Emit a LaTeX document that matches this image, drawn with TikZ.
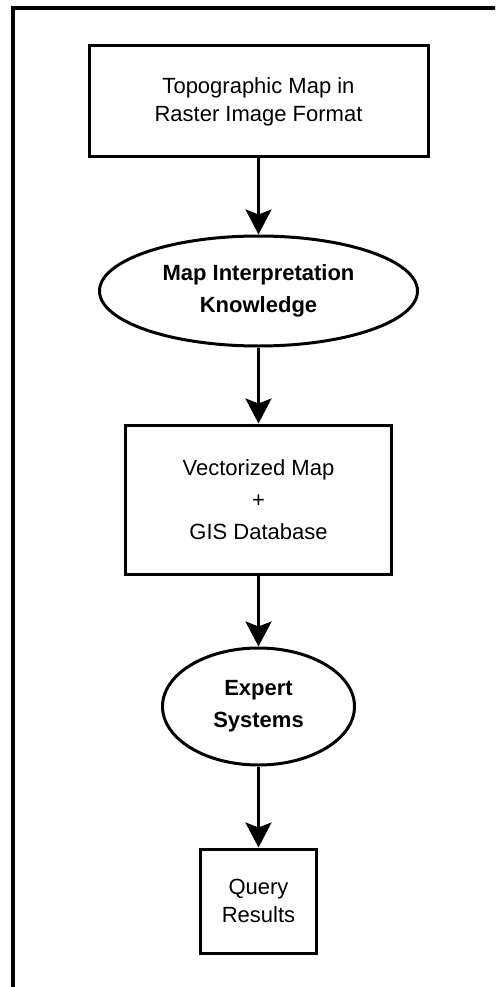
\documentclass[tikz,border=0pt]{standalone}
\usepackage{fontspec}
\setmainfont{Liberation Sans}
\usetikzlibrary{arrows.meta,positioning,shapes.geometric}

\begin{document}
\begin{tikzpicture}[x=1pt,y=1pt,
    proc/.style={draw,line width=3pt,rectangle,inner sep=0pt,
                 align=center,font=\fontsize{22}{28}\selectfont},
    know/.style={draw,line width=3pt,ellipse,inner sep=0pt,
                 align=center,font=\fontsize{22}{32}\selectfont\bfseries},
    flow/.style={-{Stealth[length=25pt,width=26pt,inset=5pt]},
                 line width=3pt}]

    \clip (0,0) rectangle (495,-987);

    % outer frame (runs off the right and bottom)
    \draw[line width=4pt] (13,-1000) |- (520,-8.5);

    \node[proc,minimum width=339pt,minimum height=111pt] (raster)
      at (258.5,-101.5) {Topographic Map in\\Raster Image Format};
    \node[know,minimum width=318pt,minimum height=110pt] (interp)
      [below=76pt of raster] {Map Interpretation\\Knowledge};
    \node[proc,minimum width=266pt,minimum height=149pt,
          font=\fontsize{22}{32}\selectfont] (vector)
      [below=76pt of interp] {Vectorized Map\\+\\GIS Database};
    \node[know,minimum width=192pt,minimum height=117pt] (expert)
      [below=71pt of vector] {Expert\\Systems};
    \node[proc,minimum width=116pt,minimum height=104pt] (query)
      [below=81pt of expert] {Query\\Results};

    \foreach \a/\b in {raster/interp,interp/vector,vector/expert,expert/query}{
      \draw[flow] (\a) -- (\b);
    }
\end{tikzpicture}
\end{document}
